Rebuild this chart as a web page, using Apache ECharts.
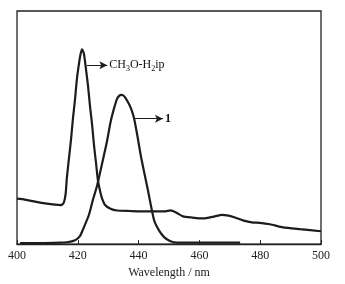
<!DOCTYPE html>
<html lang="en">
<head>
    <meta charset="utf-8">
    <title>spectra</title>
    <script src="https://cdn.jsdelivr.net/npm/echarts@6/dist/echarts.min.js"></script>
    <style>
        html, body { margin: 0; padding: 0; background: #fff; }
        #chart { width: 345px; height: 284px; }
    </style>
</head>
<body>
<div id="chart"></div>
<script>
    // CH3O-H2ip emission
    var wlA = [400, 402.6, 407.6, 412.5, 414.5, 415.4, 416.0, 416.4, 417.1, 417.8, 418.4, 419.1, 419.7, 420.4,
        420.9, 421.4, 422.0, 422.7, 423.4, 424.0, 424.7, 425.3, 426.0, 426.6, 427.3, 428.0, 428.9, 430.6,
        432.9, 437.2, 443.8, 448.4, 450.6, 452.3, 454.6, 457.6, 461.2, 465.1, 467.4, 469.1, 471.7, 474.3,
        477.3, 479.9, 483.2, 487.5, 493.1, 500];
    var valA = [19.5, 19.1, 17.8, 16.9, 16.7, 17.8, 21.6, 28.4, 36.9, 45.3, 53.8, 62.3, 70.8, 77.5,
        81.4, 83.5, 81.8, 75.0, 67.4, 59.3, 51.3, 42.8, 34.7, 27.5, 22.9, 19.5, 16.9, 15.3,
        14.4, 14.2, 14.0, 14.0, 14.5, 13.6, 11.9, 11.4, 11.0, 11.9, 12.5, 12.3, 11.4, 10.2,
        9.3, 9.1, 8.5, 7.2, 6.4, 5.5];
    // compound 1 emission
    var wlB = [401, 407.6, 414.1, 416.4, 419.1, 420.7, 422.0, 423.7, 425.0, 426.4, 428.6, 429.6, 430.8, 431.9,
        432.9, 433.6, 434.3, 434.9, 435.5, 436.8, 437.7, 438.5, 439.6, 440.7, 441.8, 442.9, 445.1, 446.7,
        448.4, 450.3, 452.6, 460.2, 473.4];
    var valB = [0.4, 0.4, 0.6, 0.8, 1.7, 3.4, 7.2, 12.7, 19.1, 25.4, 38.1, 44.1, 52.5, 58.1,
        62.3, 63.6, 64.0, 63.8, 63.1, 60.2, 57.5, 54.0, 46.5, 38.1, 31.0, 24.2, 10.2, 5.9,
        3.0, 1.3, 0.6, 0.6, 0.6];
    var xTicks = [400, 420, 440, 460, 480, 500];

    function pairs(xs, ys) {
        return xs.map(function (x, i) { return [x, ys[i]]; });
    }

    var chart = echarts.init(document.getElementById('chart'));
    var serif = 'Liberation Serif';
    var ink = '#1c1c1c';

    chart.setOption({
        animation: false,
        grid: {
            left: 17, right: 24, top: 11, bottom: 37,
            show: true, borderColor: '#222', borderWidth: 1.3
        },
        xAxis: {
            type: 'value', min: 400, max: 500, interval: 20,
            axisLine: { show: true, lineStyle: { color: '#222', width: 1.3 } },
            axisTick: { show: true, inside: true, length: 4, lineStyle: { color: '#222' } },
            splitLine: { show: false },
            axisLabel: {
                margin: 6, fontFamily: serif, fontSize: 12, color: '#222',
                formatter: function (v) { return xTicks.indexOf(v) >= 0 ? v : ''; }
            },
            name: 'Wavelength / nm', nameLocation: 'middle', nameGap: 20,
            nameTextStyle: { fontFamily: serif, fontSize: 12, color: '#222' }
        },
        yAxis: {
            type: 'value', min: 0, max: 100,
            axisLine: { show: false }, axisTick: { show: false },
            axisLabel: { show: false }, splitLine: { show: false }
        },
        series: [
            {
                type: 'line', data: pairs(wlA, valA), smooth: 0.2, showSymbol: false,
                lineStyle: { color: ink, width: 2.2 },
                markLine: {
                    silent: true, symbol: ['none', 'arrow'], symbolSize: [6, 8],
                    lineStyle: { color: ink, width: 1, type: 'solid' },
                    label: {
                        position: 'end', distance: 2, color: '#111', fontFamily: serif, fontSize: 12,
                        formatter: 'CH{s|3}O-H{s|2}ip',
                        rich: { s: { fontSize: 8, fontFamily: serif, color: '#111', padding: [8, 0, 0, 0] } }
                    },
                    data: [[{ coord: [423.0, 76.7] }, { coord: [429.7, 76.7] }]]
                }
            },
            {
                type: 'line', data: pairs(wlB, valB), smooth: 0.2, showSymbol: false,
                lineStyle: { color: ink, width: 2.2 },
                markLine: {
                    silent: true, symbol: ['none', 'arrow'], symbolSize: [6, 8],
                    lineStyle: { color: ink, width: 1, type: 'solid' },
                    label: {
                        position: 'end', distance: 2, color: '#111', fontFamily: serif,
                        fontSize: 12, fontWeight: 'bold', formatter: '1'
                    },
                    data: [[{ coord: [438.8, 53.8] }, { coord: [448.0, 53.8] }]]
                }
            }
        ]
    });
</script>
</body>
</html>
